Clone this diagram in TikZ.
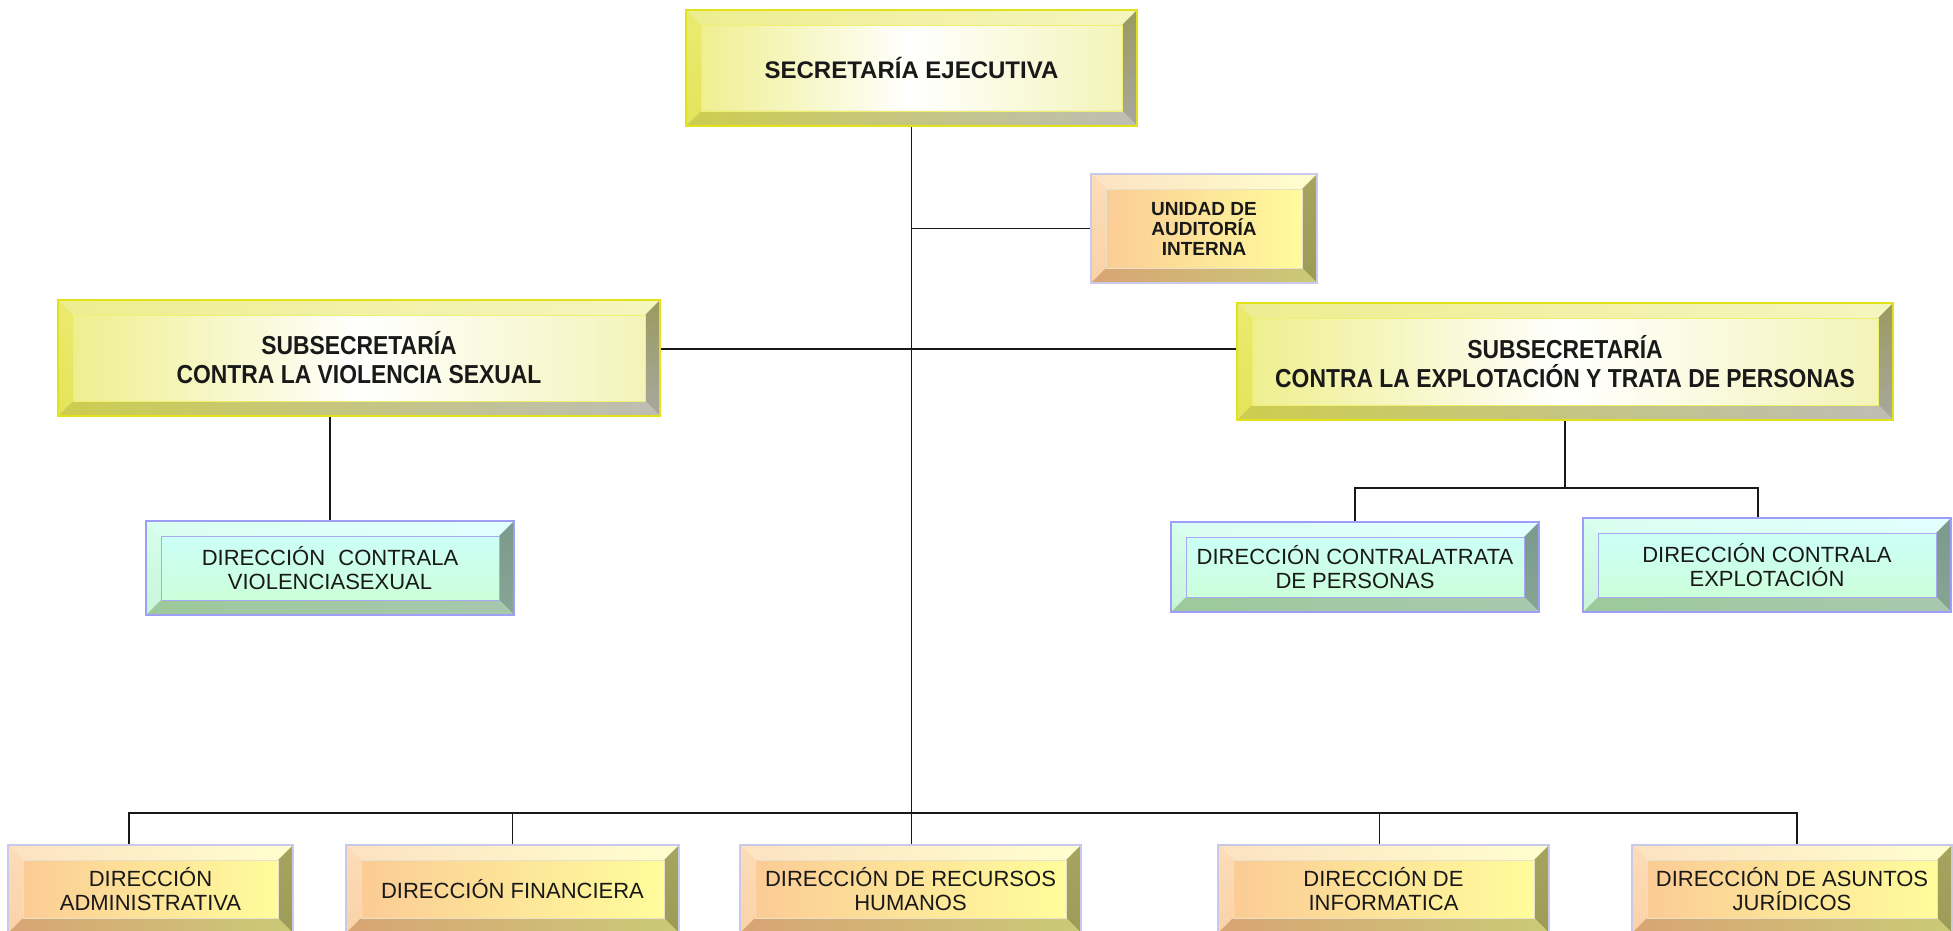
\documentclass[tikz,border=0pt]{standalone}
\usepackage{fontspec}
\setmainfont{Liberation Sans}
\newfontfamily\condfont[FakeStretch=0.88]{Liberation Sans}
\usetikzlibrary{calc}

% yellow scheme
\definecolor{yborder}{HTML}{E2E21A}
\definecolor{yfaceL}{HTML}{EEEE8A}
\definecolor{yfaceR}{HTML}{F3F3B5}
\definecolor{ytopL}{HTML}{EDED90}
\definecolor{ytopR}{HTML}{F5F5C0}
\definecolor{yleftT}{HTML}{EAEA70}
\definecolor{yleftB}{HTML}{E4E45A}
\definecolor{yrightT}{HTML}{9A9A60}
\definecolor{yrightB}{HTML}{A8A8A0}
\definecolor{ybotL}{HTML}{CDCD50}
\definecolor{ybotR}{HTML}{BDBDB5}
\definecolor{yinner}{HTML}{F0F070}
% orange scheme
\definecolor{oborder}{HTML}{C9C9EC}
\definecolor{ofaceL}{HTML}{FBC995}
\definecolor{ofaceR}{HTML}{FFFF9C}
\definecolor{otopL}{HTML}{FCE2C2}
\definecolor{otopR}{HTML}{FFFFCF}
\definecolor{oleftT}{HTML}{FCDCB8}
\definecolor{oleftB}{HTML}{FAD2A8}
\definecolor{orightT}{HTML}{A5A560}
\definecolor{orightB}{HTML}{9C9C58}
\definecolor{obotL}{HTML}{D8A474}
\definecolor{obotR}{HTML}{CACA78}
\definecolor{oinner}{HTML}{E8E0C8}
% blue scheme
\definecolor{bborder}{HTML}{9E9EF8}
\definecolor{bfaceT}{HTML}{CCFFFF}
\definecolor{bfaceB}{HTML}{CCFFD2}
\definecolor{btopL}{HTML}{D9FFF0}
\definecolor{btopR}{HTML}{E2FFFF}
\definecolor{bleftT}{HTML}{D6FFEC}
\definecolor{bleftB}{HTML}{C8F5D8}
\definecolor{brightT}{HTML}{7A9A8C}
\definecolor{brightB}{HTML}{87A595}
\definecolor{bbotL}{HTML}{9CC99C}
\definecolor{bbotR}{HTML}{A8C8AE}
\definecolor{binner}{HTML}{A8A8F4}

\def\bw{15pt}
\newcommand\bevels[1]{%
  \coordinate (bNW) at (path picture bounding box.north west);
  \coordinate (bNE) at (path picture bounding box.north east);
  \coordinate (bSW) at (path picture bounding box.south west);
  \coordinate (bSE) at (path picture bounding box.south east);
  \shade[left color=#1topL,right color=#1topR] (bNW) -- (bNE) -- ($(bNE)+(-\bw,-\bw)$) -- ($(bNW)+(\bw,-\bw)$) -- cycle;
  \shade[top color=#1leftT,bottom color=#1leftB] (bNW) -- ($(bNW)+(\bw,-\bw)$) -- ($(bSW)+(\bw,\bw)$) -- (bSW) -- cycle;
  \shade[top color=#1rightT,bottom color=#1rightB] (bNE) -- (bSE) -- ($(bSE)+(-\bw,\bw)$) -- ($(bNE)+(-\bw,-\bw)$) -- cycle;
  \shade[left color=#1botL,right color=#1botR] (bSW) -- ($(bSW)+(\bw,\bw)$) -- ($(bSE)+(-\bw,\bw)$) -- (bSE) -- cycle;
  \draw[#1inner,line width=0.8pt] ($(bNW)+(\bw,-\bw)$) rectangle ($(bSE)+(-\bw,\bw)$);
}

\newcommand\fSE{\fontsize{24}{28}\selectfont\bfseries}
\newcommand\fSub{\condfont\fontsize{26}{29}\selectfont\bfseries}
\newcommand\fUA{\fontsize{19}{20}\selectfont\bfseries}
\newcommand\fDir{\fontsize{22}{24}\selectfont}

\tikzset{
  orgbox/.style={line width=1.6pt, inner sep=0pt, align=center, text=black!90},
  bevelled/.style={path picture={\bevels{#1}}},
  yellowbox/.style={orgbox, draw=yborder, left color=yfaceL, right color=yfaceR, middle color=white, bevelled=y},
  orangebox/.style={orgbox, draw=oborder, left color=ofaceL, right color=ofaceR, bevelled=o},
  bluebox/.style={orgbox, draw=bborder, top color=bfaceT, bottom color=bfaceB, bevelled=b},
  conn/.style={draw=black!90, line width=1.6pt},
}

\begin{document}
\begin{tikzpicture}[x=1pt,y=-1pt]
\useasboundingbox (0,0) rectangle (1953,931);
\fill[white] (0,0) rectangle (1953,931);

% nodes
\node[yellowbox, minimum width=451, minimum height=116, font=\fSE] (se) at (911.5,68) {SECRETARÍA EJECUTIVA};
\node[orangebox, minimum width=226, minimum height=109, font=\fUA] (ua) at (1204,228.5) {UNIDAD DE\\AUDITORÍA\\INTERNA};
\node[yellowbox, minimum width=602, minimum height=116, font=\fSub] (sv) at (359,358) {SUBSECRETARÍA\\CONTRA LA VIOLENCIA SEXUAL};
\node[yellowbox, minimum width=656, minimum height=117, font=\fSub] (sex) at (1565,361.5) {SUBSECRETARÍA\\CONTRA LA EXPLOTACIÓN Y TRATA DE PERSONAS};

\node[bluebox, minimum width=368, minimum height=94, font=\fDir] (dcvs) at (330,568) {DIRECCIÓN\hspace{0.6em}CONTRALA\\VIOLENCIASEXUAL};
\node[bluebox, minimum width=368, minimum height=90, font=\fDir] (dctp) at (1355,567) {DIRECCIÓN CONTRALATRATA\\DE PERSONAS};
\node[bluebox, minimum width=368, minimum height=94, font=\fDir] (dce) at (1767,565) {DIRECCIÓN CONTRALA\\EXPLOTACIÓN};

\node[orangebox, minimum width=285, minimum height=88, font=\fDir] (da) at (150.5,889) {DIRECCIÓN\\ADMINISTRATIVA};
\node[orangebox, minimum width=333, minimum height=88, font=\fDir] (df) at (512.5,889) {DIRECCIÓN FINANCIERA};
\node[orangebox, minimum width=341, minimum height=88, font=\fDir] (drh) at (910.5,889) {DIRECCIÓN DE RECURSOS\\HUMANOS};
\node[orangebox, minimum width=331, minimum height=88, font=\fDir] (di) at (1383.5,889) {DIRECCIÓN DE\\INFORMATICA};
\node[orangebox, minimum width=320, minimum height=88, font=\fDir] (daj) at (1792,889) {DIRECCIÓN DE ASUNTOS\\JURÍDICOS};

% helper levels
\coordinate (h1) at (0,349);
\coordinate (b2) at (0,488);
\coordinate (b3) at (0,813);
\coordinate (dceT) at ($(dce.north)+(-9pt,0)$);
\coordinate (daT) at ($(da.north)+(-21.5pt,0)$);
\coordinate (dajT) at ($(daj.north)+(5pt,0)$);
\coordinate (diT) at ($(di.north)+(-4pt,0)$);

% connectors
\draw[conn] (se.south) -- (se.south |- drh.north);
\draw[conn] (se.south |- ua.west) -- (ua.west);
\draw[conn] (sv.east |- h1) -- (sex.west |- h1);
\draw[conn] (dcvs.north) -- (dcvs.north |- sv.south);
\draw[conn] (sex.south) -- (sex.south |- b2);
\draw[conn] (dctp.north) -- (dctp.north |- b2) -- (dceT |- b2) -- (dceT);
\draw[conn] (daT) -- (daT |- b3) -- (dajT |- b3) -- (dajT);
\draw[conn] (df.north) -- (df.north |- b3);
\draw[conn] (diT) -- (diT |- b3);
\end{tikzpicture}
\end{document}
